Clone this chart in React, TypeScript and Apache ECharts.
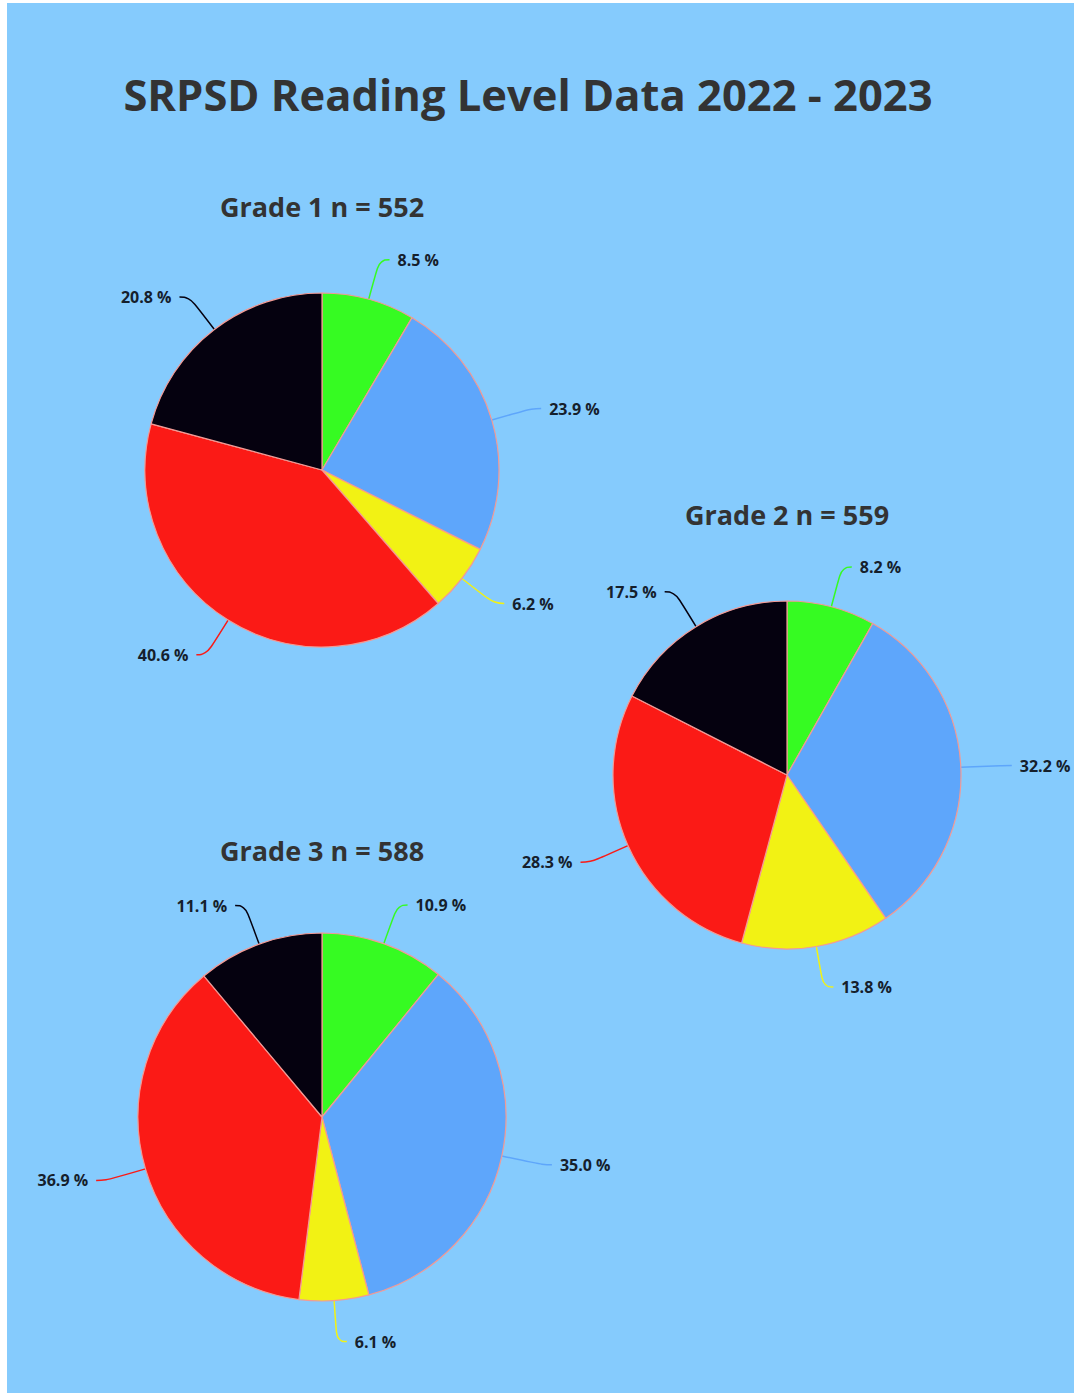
import React, { useEffect, useRef } from "react";
import * as echarts from "echarts";

const sliceNames = ["Green", "Blue", "Yellow", "Red", "Black"];
const sliceColors = ["#36fb22", "#5ea6fb", "#f2f214", "#fb1a16", "#05010f"];
const grade1Values = [8.5, 23.9, 6.2, 40.6, 20.8];
const grade2Values = [8.2, 32.2, 13.8, 28.3, 17.5];
const grade3Values = [10.9, 35.0, 6.1, 36.9, 11.1];
const mainTitle = "SRPSD Reading Level Data 2022 - 2023";
const pieTitles = ["Grade 1 n = 552", "Grade 2 n = 559", "Grade 3 n = 588"];

const FONT = "'Open Sans', Lato, sans-serif";

function makePie(values: number[], center: [number, number], radius: number) {
  return {
    type: "pie",
    center,
    radius,
    startAngle: 90,
    clockwise: true,
    avoidLabelOverlap: false,
    itemStyle: { borderColor: "#f29a95", borderWidth: 1.2 },
    label: {
      show: true,
      formatter: (p: any) => Number(p.value).toFixed(1) + " %",
      color: "#15202c",
      fontFamily: FONT,
      fontWeight: "bold",
      fontSize: 16,
      letterSpacing: 0.3,
      padding: [14, 0, 0, 0],
      distanceToLabelLine: 8,
    },
    labelLine: {
      show: true,
      length: 41,
      length2: 10,
      smooth: 0.5,
      lineStyle: { width: 1.5 },
    },
    emphasis: { disabled: true },
    data: values.map((v, i) => ({
      name: sliceNames[i],
      value: v,
      itemStyle: { color: sliceColors[i] },
    })),
  };
}

function subTitle(text: string, x: number, y: number) {
  return {
    type: "text",
    x,
    y,
    style: {
      text,
      fill: "#333333",
      font: `bold 27px ${FONT}`,
      textAlign: "center",
      textVerticalAlign: "middle",
    },
  };
}

export default function App() {
  const ref = useRef<HTMLDivElement>(null);
  useEffect(() => {
    if (!ref.current) return;
    const chart = echarts.init(ref.current, null, { renderer: "svg" });
    chart.setOption({
      animation: false,
      backgroundColor: "#ffffff",
      graphic: [
        {
          type: "rect",
          z: -10,
          shape: { x: 7, y: 3, width: 1067, height: 1390 },
          style: { fill: "#85cbfd" },
        },
        {
          type: "text",
          x: 528,
          y: 94,
          style: {
            text: mainTitle,
            fill: "#333333",
            font: `bold 43.5px ${FONT}`,
            textAlign: "center",
            textVerticalAlign: "middle",
          },
        },
        subTitle(pieTitles[0], 322, 206),
        subTitle(pieTitles[1], 787, 514),
        subTitle(pieTitles[2], 322, 850),
      ],
      series: [
        makePie(grade1Values, [322, 470], 177),
        makePie(grade2Values, [787, 775], 174),
        makePie(grade3Values, [322, 1117], 184),
      ],
    });
    return () => chart.dispose();
  }, []);
  return (
    <div
      ref={ref}
      style={{ position: "absolute", left: 0, top: 0, width: 1074, height: 1393 }}
    />
  );
}
